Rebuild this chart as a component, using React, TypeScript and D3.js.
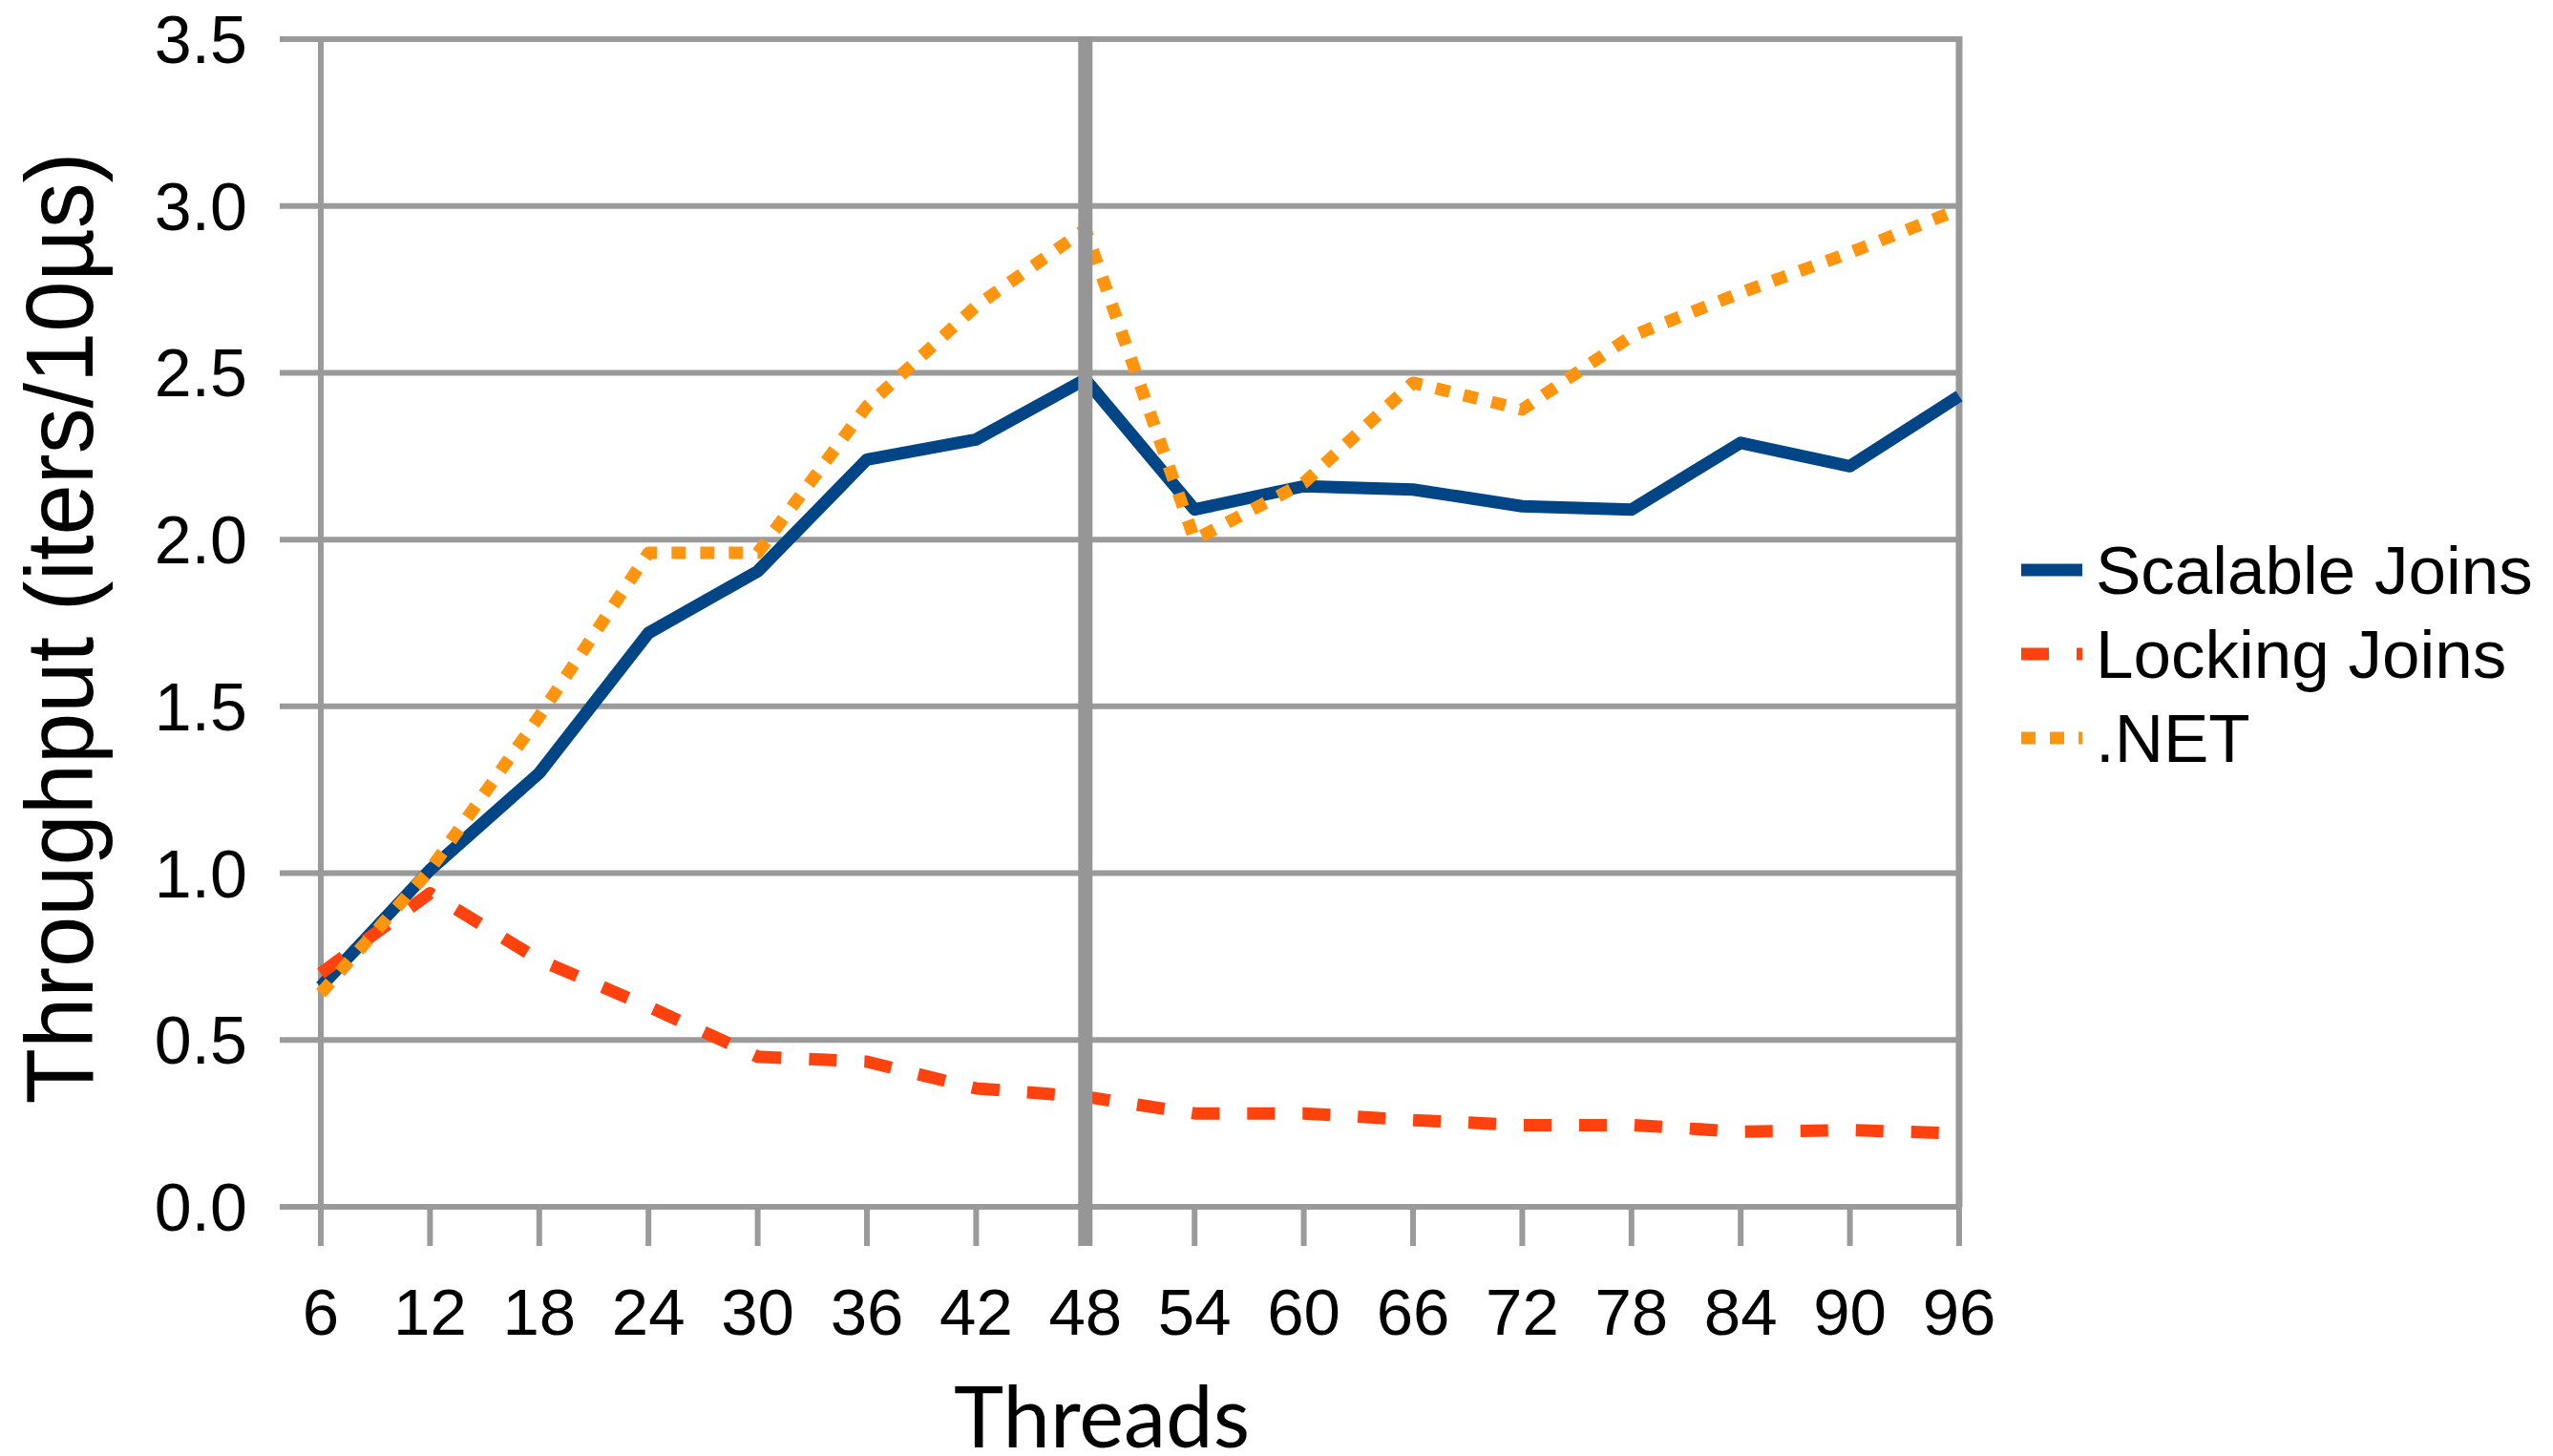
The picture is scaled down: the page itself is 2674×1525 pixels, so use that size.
import React from "react";
import * as d3 from "d3";

const categories = [6, 12, 18, 24, 30, 36, 42, 48, 54, 60, 66, 72, 78, 84, 90, 96];
const scalableJoins = [0.66, 1.01, 1.3, 1.72, 1.905, 2.24, 2.3, 2.48, 2.09, 2.16, 2.15, 2.1, 2.09, 2.29, 2.22, 2.43];
const lockingJoins = [0.7, 0.94, 0.74, 0.6, 0.45, 0.435, 0.355, 0.33, 0.28, 0.28, 0.26, 0.245, 0.245, 0.225, 0.23, 0.22];
const dotNet = [0.64, 1.01, 1.47, 1.96, 1.96, 2.4, 2.7, 2.93, 2.0, 2.17, 2.47, 2.39, 2.61, 2.74, 2.86, 2.99];
const yTicks = [0, 0.5, 1, 1.5, 2, 2.5, 3, 3.5];
const seriesNames = ["Scalable Joins", "Locking Joins", ".NET"];
const yTitle = "Throughput (iters/10µs)";
const xTitle = "Threads";

const W = 2674;
const H = 1525;
const FONT = "'Liberation Sans', Arial, Helvetica, sans-serif";
const GRID = "#9a9a9a";

export default function App() {
  const x = d3.scalePoint<number>().domain(categories).range([336, 2052]);
  const y = d3.scaleLinear().domain([0, 3.5]).range([1264, 41]);
  const line = d3
    .line<number>()
    .x((_, i) => x(categories[i]) as number)
    .y((d) => y(d));

  const series = [
    { name: seriesNames[0], data: scalableJoins, color: "#004586", dash: "none" },
    { name: seriesNames[1], data: lockingJoins, color: "#ff420e", dash: "29 29" },
    { name: seriesNames[2], data: dotNet, color: "#ff950e", dash: "15 15" },
  ];

  const x0 = x(categories[0]) as number;
  const x1 = x(categories[categories.length - 1]) as number;
  const xMid = x(48) as number;

  return (
    <svg
      width={W}
      height={H}
      viewBox={`0 0 ${W} ${H}`}
      style={{ position: "absolute", left: 0, top: 0, background: "#fff" }}
    >
      <rect x={0} y={0} width={W} height={H} fill="#fff" />
      {/* horizontal gridlines with left ticks */}
      {yTicks.map((t) => (
        <line key={"h" + t} x1={x0 - 43} x2={x1} y1={y(t)} y2={y(t)} stroke={GRID} strokeWidth={6} />
      ))}
      {/* left axis and right border */}
      <line x1={x0} x2={x0} y1={y(3.5)} y2={y(0)} stroke={GRID} strokeWidth={6} />
      <line x1={x1} x2={x1} y1={y(3.5) - 3} y2={y(0)} stroke={GRID} strokeWidth={7} />
      {/* x ticks */}
      {categories.map((c) => (
        <line key={"t" + c} x1={x(c)} x2={x(c)} y1={y(0)} y2={y(0) + 41} stroke={GRID} strokeWidth={6} />
      ))}
      {/* y tick labels */}
      {yTicks.map((t) => (
        <text
          key={"yl" + t}
          x={259}
          y={y(t) + 25}
          textAnchor="end"
          fontFamily={FONT}
          fontSize={70}
          fill="#000"
        >
          {t.toFixed(1)}
        </text>
      ))}
      {/* x tick labels */}
      {categories.map((c) => (
        <text
          key={"xl" + c}
          x={x(c)}
          y={1398}
          textAnchor="middle"
          fontFamily={FONT}
          fontSize={69}
          fill="#000"
        >
          {c}
        </text>
      ))}
      {/* series */}
      {series.map((s) => (
        <path
          key={s.name}
          d={line(s.data) || ""}
          fill="none"
          stroke={s.color}
          strokeWidth={13}
          strokeDasharray={s.dash}
          strokeLinejoin="round"
          strokeLinecap="butt"
        />
      ))}
      {/* thick vertical line at 48 drawn on top */}
      <line x1={xMid} x2={xMid} y1={y(3.5) - 3} y2={y(0) + 41} stroke="#969696" strokeWidth={15} />
      {/* legend */}
      {series.map((s, i) => {
        const ly = 597 + i * 88;
        return (
          <g key={"lg" + s.name}>
            <line x1={2117} x2={2181} y1={ly} y2={ly} stroke={s.color} strokeWidth={13} strokeDasharray={s.dash} />
            <text x={2195} y={ly + 25} fontFamily={FONT} fontSize={71} fill="#000">
              {s.name}
            </text>
          </g>
        );
      })}
      {/* axis titles */}
      <text
        transform={`translate(97, 658) rotate(-90)`}
        textAnchor="middle"
        fontFamily={FONT}
        fontSize={100}
        textLength={997}
        lengthAdjust="spacingAndGlyphs"
        fill="#000"
      >
        {yTitle}
      </text>
      <text
        x={1154}
        y={1516}
        textAnchor="middle"
        fontFamily="Lato, 'Open Sans', sans-serif"
        fontSize={90}
        textLength={310}
        lengthAdjust="spacingAndGlyphs"
        fill="#000"
      >
        {xTitle}
      </text>
    </svg>
  );
}
